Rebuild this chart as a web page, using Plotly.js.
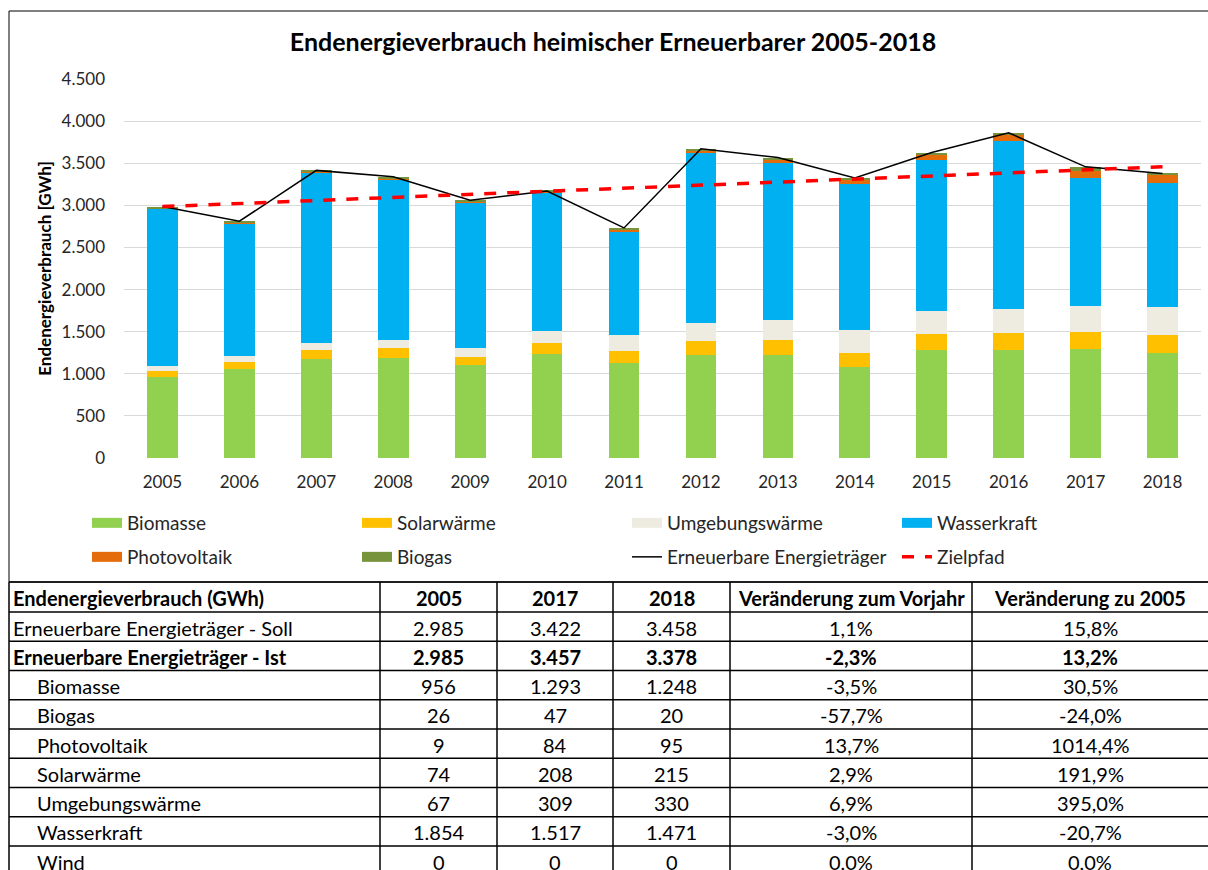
<!DOCTYPE html>
<html>
<head>
<meta charset="utf-8">
<script src="https://cdn.plot.ly/plotly-3.0.1.min.js"></script>
<style>
html,body{margin:0;padding:0;background:#fff;}
#wrap{width:1208px;height:870px;overflow:hidden;}
#chart{width:1208px;height:880px;}
</style>
</head>
<body>
<div id="wrap"><div id="chart"></div></div>
<script>
// ---- data (GWh) ----
const years = ['2005','2006','2007','2008','2009','2010','2011','2012','2013','2014','2015','2016','2017','2018'];
const biomasse       = [956, 1054, 1177, 1189, 1101, 1237, 1125, 1226, 1226, 1083, 1286, 1286, 1293, 1248];
const solarwaerme    = [74, 83, 103, 123, 96, 127, 151, 167, 175, 163, 182, 194, 208, 215];
const umgebungswaerme= [67, 80, 80, 88, 115, 143, 183, 214, 238, 270, 278, 294, 309, 330];
const wasserkraft    = [1854, 1566, 2020, 1900, 1718, 1642, 1229, 2016, 1865, 1734, 1790, 1984, 1517, 1471];
const photovoltaik   = [9, 9, 10, 12, 15, 14, 24, 28, 32, 52, 65, 75, 84, 95];
const biogas         = [26, 19, 25, 28, 13, 14, 20, 20, 31, 23, 26, 28, 47, 20];
const erneuerbare    = [2985, 2811, 3415, 3340, 3060, 3170, 2732, 3671, 3567, 3325, 3627, 3861, 3457, 3378];
const zielpfad       = [2985, 3021, 3058, 3094, 3131, 3167, 3203, 3240, 3276, 3313, 3349, 3385, 3422, 3458];

const yTicks = [0, 500, 1000, 1500, 2000, 2500, 3000, 3500, 4000, 4500];

// ---- table data ----
const tableHeader = ['Endenergieverbrauch (GWh)', '2005', '2017', '2018', 'Veränderung zum Vorjahr', 'Veränderung zu 2005'];
const rowLabels = ['Erneuerbare Energieträger - Soll', 'Erneuerbare Energieträger - Ist', 'Biomasse', 'Biogas', 'Photovoltaik', 'Solarwärme', 'Umgebungswärme', 'Wasserkraft', 'Wind'];
const rowIndent = [0, 0, 1, 1, 1, 1, 1, 1, 1];
const rowBold   = [0, 1, 0, 0, 0, 0, 0, 0, 0];
const val2005 = [2985, 2985, 956, 26, 9, 74, 67, 1854, 0];
const val2017 = [3422, 3457, 1293, 47, 84, 208, 309, 1517, 0];
const val2018 = [3458, 3378, 1248, 20, 95, 215, 330, 1471, 0];
const changePrevYear = [1.1, -2.3, -3.5, -57.7, 13.7, 2.9, 6.9, -3.0, 0.0];
const change2005     = [15.8, 13.2, 30.5, -24.0, 1014.4, 191.9, 395.0, -20.7, 0.0];

// ---- colours ----
const C = {
  biomasse:'#92D050', solar:'#FFC000', umgebung:'#EEECE1', wasser:'#00B0F0',
  pv:'#E46C0A', biogas:'#77933C'
};

const W = 1208, H = 880;
const px = x => x / W;
const py = y => 1 - y / H;
const FONT = 'Lato, "Open Sans", sans-serif';
const TXT = '#262626';

function fmtInt(n){
  const s = String(Math.abs(Math.round(n)));
  const g = s.replace(/\B(?=(\d{3})+(?!\d))/g, '.');
  return (n < 0 ? '-' : '') + g;
}
function fmtPct(p){
  return p.toFixed(1).replace('.', ',') + '%';
}

function bar(name, y, color){
  return {type:'bar', name:name, x:years, y:y, marker:{color:color, line:{width:0}},
          showlegend:false, hoverinfo:'skip', xaxis:'x', yaxis:'y'};
}
function legendSwatch(name, color, legend, rank){
  return {type:'scatter', mode:'lines', name:name, x:[null], y:[null],
          line:{color:color, width:10}, legend:legend, legendrank:rank,
          hoverinfo:'skip', xaxis:'x', yaxis:'y'};
}

const traces = [
  bar('Biomasse', biomasse, C.biomasse),
  bar('Solarwärme', solarwaerme, C.solar),
  bar('Umgebungswärme', umgebungswaerme, C.umgebung),
  bar('Wasserkraft', wasserkraft, C.wasser),
  bar('Photovoltaik', photovoltaik, C.pv),
  bar('Biogas', biogas, C.biogas),
  legendSwatch('Biomasse', C.biomasse, 'legend', 1),
  legendSwatch('Solarwärme', C.solar, 'legend', 2),
  legendSwatch('Umgebungswärme', C.umgebung, 'legend', 3),
  legendSwatch('Wasserkraft', C.wasser, 'legend', 4),
  legendSwatch('Photovoltaik', C.pv, 'legend2', 1),
  legendSwatch('Biogas', C.biogas, 'legend2', 2),
  {type:'scatter', mode:'lines', name:'Erneuerbare Energieträger', x:years, y:erneuerbare,
   line:{color:'#000000', width:1.5}, legend:'legend2', legendrank:3, hoverinfo:'skip'},
  {type:'scatter', mode:'lines', name:'Zielpfad', x:years, y:zielpfad,
   line:{color:'#FF0000', width:3.5, dash:'12px,11px'}, legend:'legend2', legendrank:4, hoverinfo:'skip'}
];

// ---- table (lines as shapes, text as annotations) ----
const colW = [371, 117, 116, 117, 242, 236];
const tblLeft = 9, tblTop = 582, headH = 30, rowH = 29.25, tblBottom = 880;
const colEdges = [tblLeft];
colW.forEach(w => colEdges.push(colEdges[colEdges.length-1] + w));
const rowEdges = [tblTop, tblTop + headH];
for (let i = 1; i <= rowLabels.length; i++) rowEdges.push(tblTop + headH + i * rowH);

const shapes = [
  {type:'rect', xref:'paper', yref:'paper', x0:px(9), x1:1.01, y0:py(tblTop), y1:py(11),
   line:{color:'#000', width:1}, fillcolor:'rgba(0,0,0,0)', layer:'above'}
];
rowEdges.forEach(y => shapes.push({type:'line', xref:'paper', yref:'paper',
  x0:px(tblLeft), x1:1.01, y0:py(y), y1:py(y), line:{color:'#000', width:1.5}}));
colEdges.slice(0, -1).forEach(x => shapes.push({type:'line', xref:'paper', yref:'paper',
  x0:px(x), x1:px(x), y0:py(tblTop), y1:py(tblBottom), line:{color:'#000', width:1.5}}));

const TF = {family:FONT, size:20, color:'#000'};
const annotations = [];
function cellText(text, col, rowTop, rowBottom, bold, indent){
  const yc = (rowTop + rowBottom) / 2 + 1;
  const left = col === 0;
  annotations.push({
    xref:'paper', yref:'paper', showarrow:false,
    x: left ? px(colEdges[0] + 2 + (indent ? 24 : 0)) : px((colEdges[col] + colEdges[col+1]) / 2),
    xanchor: left ? 'left' : 'center',
    y: py(yc), yanchor:'middle',
    text: bold ? '<b>' + text + '</b>' : text,
    font: TF
  });
}
tableHeader.forEach((t, c) => cellText(t, c, rowEdges[0], rowEdges[1], true, false));
const tableCols = [
  rowLabels,
  val2005.map(fmtInt), val2017.map(fmtInt), val2018.map(fmtInt),
  changePrevYear.map(fmtPct), change2005.map(fmtPct)
];
rowLabels.forEach((_, r) => {
  tableCols.forEach((col, c) => {
    cellText(col[r], c, rowEdges[r+1], rowEdges[r+2], rowBold[r] === 1, c === 0 && rowIndent[r] === 1);
  });
});

const layout = {
  width:W, height:H,
  margin:{l:0, r:0, t:0, b:0},
  paper_bgcolor:'#fff', plot_bgcolor:'#fff',
  separators:',.',
  font:{family:FONT, size:17, color:TXT},
  title:{text:'<b>Endenergieverbrauch heimischer Erneuerbarer 2005-2018</b>',
         font:{family:FONT, size:25, color:'#000'},
         x:px(613), xanchor:'center', y:py(42), yanchor:'middle'},
  barmode:'stack', bargap:0.6,
  xaxis:{type:'category', domain:[px(124), px(1201)], showgrid:false, zeroline:false, showline:false,
         ticks:'', tickfont:{family:FONT, size:17, color:TXT}, ticklabelstandoff:12, fixedrange:true},
  yaxis:{domain:[py(458), py(79)], range:[0, 4500], tickvals:yTicks, tickformat:',d',
         showgrid:true, gridcolor:'#D9D9D9', gridwidth:1, zeroline:false, showline:false, ticks:'',
         tickfont:{family:FONT, size:17, color:TXT}, ticklabelstandoff:18,
         title:{text:'<b>Endenergieverbrauch [GWh]</b>', font:{family:FONT, size:17, color:'#000'}, standoff:5},
         fixedrange:true},
  legend:{orientation:'h', x:px(87), xanchor:'left', y:py(523), yanchor:'middle',
          entrywidth:225, entrywidthmode:'pixels', traceorder:'normal',
          font:{family:FONT, size:19, color:TXT}, bgcolor:'rgba(0,0,0,0)'},
  legend2:{orientation:'h', x:px(87), xanchor:'left', y:py(557), yanchor:'middle',
          entrywidth:225, entrywidthmode:'pixels', traceorder:'normal',
          font:{family:FONT, size:19, color:TXT}, bgcolor:'rgba(0,0,0,0)'},
  shapes: shapes,
  annotations: annotations
};

Plotly.newPlot('chart', traces, layout, {displayModeBar:false, staticPlot:true});
</script>
</body>
</html>
